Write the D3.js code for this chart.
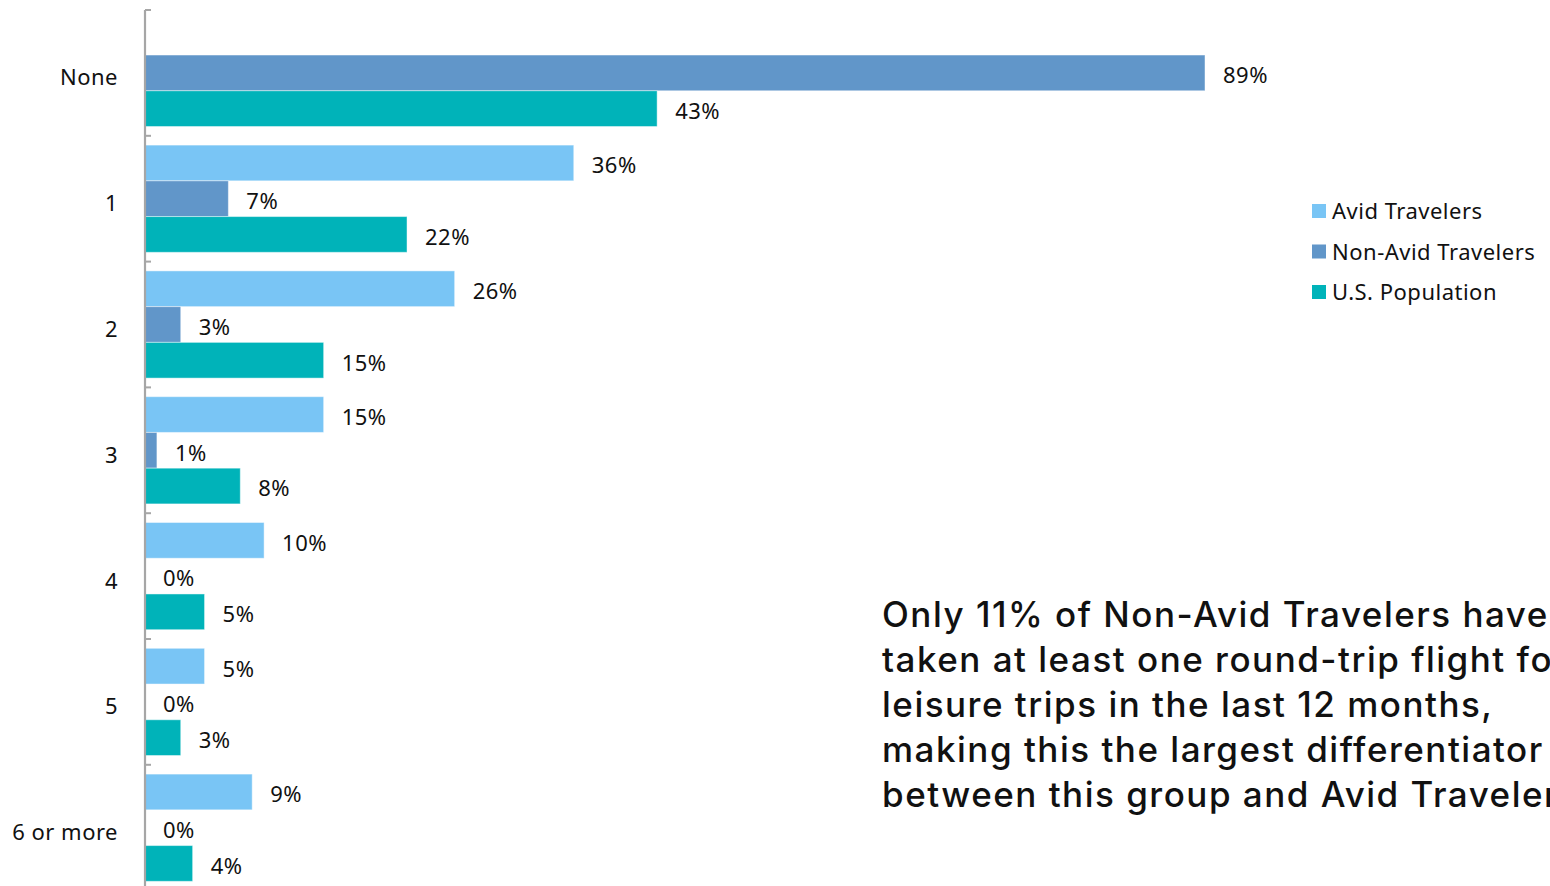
<!DOCTYPE html>
<html>
<head>
<meta charset="utf-8">
<script src="https://cdn.jsdelivr.net/npm/d3@7"></script>
<style>
  html, body { margin: 0; padding: 0; background: #ffffff; overflow: hidden; }
  svg { display: block; }
</style>
</head>
<body>
<svg id="chart" width="1550" height="886"></svg>
<script>
// Round-trip leisure flights taken in the last 12 months, share of each group
const categories = ["None", "1", "2", "3", "4", "5", "6 or more"];
const seriesNames = ["Avid Travelers", "Non-Avid Travelers", "U.S. Population"];
const avidTravelers    = [null, 36, 26, 15, 10, 5, 9];
const nonAvidTravelers = [89, 7, 3, 1, 0, 0, 0];
const usPopulation     = [43, 22, 15, 8, 5, 3, 4];
const seriesColors = ["#79c5f5", "#6196c9", "#00b3b9"];
const noteLines = [
  "Only 11% of Non-Avid Travelers have",
  "taken at least one round-trip flight for",
  "leisure trips in the last 12 months,",
  "making this the largest differentiator",
  "between this group and Avid Travelers."
];

const seriesValues = [avidTravelers, nonAvidTravelers, usPopulation];
const rows = categories.map((c, i) => ({
  category: c,
  values: seriesNames.map((s, k) => ({ series: s, value: seriesValues[k][i], color: seriesColors[k] }))
}));

const svg = d3.select("#chart");
const axisX = 145, plotTop = 10, groupStep = 125.8;

const x = d3.scaleLinear().domain([0, 100]).range([axisX, axisX + 1191]);
const y = d3.scaleBand().domain(categories)
  .range([plotTop, plotTop + groupStep * categories.length]).padding(0);
const ySub = d3.scaleBand().domain(seriesNames)
  .range([0, y.bandwidth()]).paddingInner(0).paddingOuter(0.26);

const labelFont = "'Noto Sans', 'Open Sans', sans-serif";
const labelSize = 22;
const labelSpacing = 0.5;

// bars
const groups = svg.append("g").selectAll("g").data(rows).join("g")
  .attr("transform", d => `translate(0,${y(d.category)})`);

groups.selectAll("rect").data(d => d.values.filter(v => v.value !== null)).join("rect")
  .attr("x", x(0))
  .attr("y", d => ySub(d.series))
  .attr("width", d => x(d.value) - x(0))
  .attr("height", ySub.bandwidth())
  .attr("fill", d => d.color)
  .attr("stroke", "#ffffff")
  .attr("stroke-opacity", 0.45)
  .attr("stroke-width", 1);

// value labels
groups.selectAll("text.val").data(d => d.values.filter(v => v.value !== null)).join("text")
  .attr("class", "val")
  .attr("x", d => x(d.value) + 18)
  .attr("y", d => ySub(d.series) + ySub.bandwidth() / 2)
  .attr("dy", "0.47em")
  .attr("font-family", labelFont)
  .attr("font-size", labelSize)
  .attr("letter-spacing", labelSpacing)
  .attr("fill", "#111")
  .text(d => d.value + "%");

// category axis
const axis = d3.axisLeft(y).tickSize(0).tickPadding(27);
const gAxis = svg.append("g").attr("transform", `translate(${axisX},0)`).call(axis);
gAxis.select(".domain").remove();
gAxis.selectAll("text")
  .attr("font-family", labelFont)
  .attr("font-size", labelSize)
  .attr("letter-spacing", labelSpacing)
  .attr("fill", "#111")
  .attr("dy", "0.57em");

svg.append("line")
  .attr("x1", axisX).attr("x2", axisX)
  .attr("y1", plotTop).attr("y2", 886)
  .attr("stroke", "#a6a6a6").attr("stroke-width", 2.2);

// group boundary ticks
const boundaries = categories.map(c => y(c));
svg.append("g").selectAll("line").data(boundaries).join("line")
  .attr("x1", axisX).attr("x2", axisX + 6)
  .attr("y1", d => d).attr("y2", d => d)
  .attr("stroke", "#a6a6a6").attr("stroke-width", 2);

// legend
const legend = svg.append("g").attr("transform", "translate(1312,211)");
const items = legend.selectAll("g").data(seriesNames).join("g")
  .attr("transform", (d, i) => `translate(0,${i * 40.5})`);
items.append("rect")
  .attr("x", 0).attr("y", -7).attr("width", 14).attr("height", 14)
  .attr("fill", (d, i) => seriesColors[i]);
items.append("text")
  .attr("x", 20).attr("y", 0).attr("dy", "0.38em")
  .attr("font-family", labelFont)
  .attr("font-size", labelSize)
  .attr("letter-spacing", labelSpacing)
  .attr("fill", "#111")
  .text(d => d);

// note
const note = svg.append("text")
  .attr("font-family", "Inter, 'Noto Sans', sans-serif")
  .attr("font-size", 35)
  .attr("font-weight", 500)
  .attr("letter-spacing", 1.5)
  .attr("fill", "#111");
note.selectAll("tspan").data(noteLines).join("tspan")
  .attr("x", 882)
  .attr("y", (d, i) => 627 + i * 45)
  .text(d => d);
</script>
</body>
</html>
